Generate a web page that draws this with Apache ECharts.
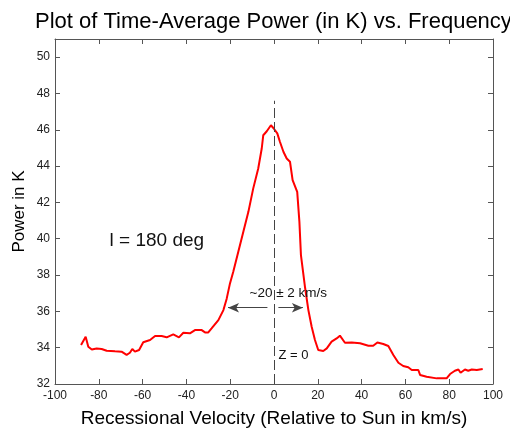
<!DOCTYPE html>
<html>
<head>
<meta charset="utf-8">
<title>Time-Average Power vs. Frequency</title>
<script src="https://cdn.jsdelivr.net/npm/echarts@6/dist/echarts.min.js"></script>
<style>
  html, body { margin: 0; padding: 0; background: #fff; }
  #chart { width: 510px; height: 428px; }
</style>
</head>
<body>
<div id="chart"></div>
<script>
// recessional velocity (km/s) and time-average power (K)
const velocity = [
  -88.1, -86, -84.8, -83.2, -81, -78.7, -76.4, -72.6, -69.6, -67.3,
  -65.8, -64.7, -63.5, -61.6, -59.7, -56.6, -54.3, -51.3, -49, -46,
  -43.4, -41.4, -38.4, -36.1, -33, -31.5, -30, -28.5, -25.4, -23.1,
  -21.6, -20.1, -18.6, -16.3, -14, -11.7, -9.5, -7.2, -5.6, -4.9,
  -3.3, -1.4, -0.3, 1.5, 2.7, 4.3, 5.8, 7.3, 8.5, 10.6,
  11.6, 12.3, 14.2, 15.7, 17.2, 18.7, 20.2, 22.5, 24.1, 26.3,
  28.6, 30.1, 32.4, 35.5, 39.3, 43.1, 45.3, 47.2, 49.9, 52.2,
  54.5, 56.8, 59, 61.3, 62.9, 65.9, 66.7, 69.7, 74.3, 78.8,
  80.4, 82.6, 84.2, 85.2, 87.2, 88.7, 90.3, 92.6, 95.3
]
const power = [
  34.15, 34.6, 34.05, 33.9, 33.96, 33.93, 33.83, 33.8, 33.78, 33.6,
  33.72, 33.93, 33.78, 33.87, 34.3, 34.42, 34.64, 34.64, 34.57, 34.73,
  34.57, 34.82, 34.79, 34.97, 34.97, 34.84, 34.84, 35.06, 35.52, 36.07,
  36.7, 37.54, 38.18, 39.28, 40.38, 41.48, 42.76, 43.87, 44.97, 45.7,
  45.92, 46.25, 46.1, 45.8, 45.34, 44.79, 44.42, 44.24, 43.23, 42.58,
  40.93, 39.1, 37.3, 36.07, 35.15, 34.42, 33.87, 33.82, 33.96, 34.33,
  34.51, 34.66, 34.27, 34.29, 34.24, 34.11, 34.11, 34.29, 34.2, 34.09,
  33.6, 33.17, 32.99, 32.92, 32.77, 32.77, 32.5, 32.4, 32.31, 32.31,
  32.55, 32.73, 32.8, 32.62, 32.8, 32.73, 32.8, 32.77, 32.83
]

// axis ranges
const xRange = [-100, 100]
const xStep = 20
const yRange = [32, 51]
const yStep = 2

// annotations (data coordinates)
const zeroLineTop = 47.6
const widthArrowY = 36.2
const leftArrow = [-3, -21]
const rightArrow = [2, 13.2]
const widthText = '~20 ± 2 km/s'
const zText = 'Z = 0'
const lText = 'l = 180 deg'

const FONT = '"Liberation Sans", Arial, Helvetica, sans-serif'
const AXIS_COLOR = '#555'

const chart = echarts.init(document.getElementById('chart'))

const boxAxis = (extra) => Object.assign({
  type: 'value',
  axisLine: { show: true, onZero: false, lineStyle: { color: AXIS_COLOR, width: 1 } },
  axisTick: { show: true, inside: true, length: 5, lineStyle: { color: AXIS_COLOR } },
  splitLine: { show: false }
}, extra)

const textPoint = (coord, text, size) => ({
  coord: coord,
  symbol: 'rect',
  symbolSize: 1,
  itemStyle: { color: 'transparent' },
  label: {
    show: true,
    position: 'right',
    distance: 0,
    formatter: text,
    color: '#111',
    fontFamily: FONT,
    fontSize: size
  }
})

const option = {
  animation: false,
  backgroundColor: '#fff',
  title: {
    text: 'Plot of Time-Average Power (in K) vs. Frequency',
    left: 30,
    top: 6,
    textStyle: { color: '#000', fontFamily: FONT, fontSize: 22, fontWeight: 'normal' }
  },
  grid: { left: 55, right: 17, top: 39, bottom: 44, outerBoundsMode: 'none' },
  xAxis: [
    boxAxis({
      min: xRange[0], max: xRange[1], interval: xStep,
      position: 'bottom',
      name: 'Recessional Velocity (Relative to Sun in km/s)',
      nameLocation: 'middle',
      nameGap: 25,
      nameTextStyle: { color: '#000', fontFamily: FONT, fontSize: 19 },
      axisLabel: {
        show: true, margin: 6, color: '#222', fontFamily: FONT, fontSize: 12,
        showMinLabel: true, showMaxLabel: true
      }
    }),
    boxAxis({
      min: xRange[0], max: xRange[1], interval: xStep,
      position: 'top',
      axisLabel: { show: false }
    })
  ],
  yAxis: [
    boxAxis({
      min: yRange[0], max: yRange[1], interval: yStep,
      position: 'left',
      name: 'Power in K',
      nameLocation: 'middle',
      nameGap: 27,
      nameMoveOverlap: false,
      nameTextStyle: { color: '#000', fontFamily: FONT, fontSize: 17 },
      axisLabel: {
        show: true, margin: 5, color: '#222', fontFamily: FONT, fontSize: 12,
        showMinLabel: true,
        formatter: (v) => (v % yStep === 0 ? String(v) : '')
      }
    }),
    boxAxis({
      min: yRange[0], max: yRange[1], interval: yStep,
      position: 'right',
      axisLabel: { show: false }
    })
  ],
  series: [
    {
      type: 'line',
      data: velocity.map((v, i) => [v, power[i]]),
      showSymbol: false,
      symbol: 'none',
      lineStyle: { color: '#ff0000', width: 2 },
      z: 3,
      markLine: {
        silent: true,
        animation: false,
        label: { show: false },
        data: [
          [
            { coord: [0, yRange[0]], symbol: 'none', lineStyle: { color: '#444', width: 1, type: [10, 4] } },
            { coord: [0, zeroLineTop], symbol: 'none' }
          ],
          [
            { coord: [leftArrow[0], widthArrowY], symbol: 'none', lineStyle: { color: '#444', width: 1, type: 'solid' } },
            { coord: [leftArrow[1], widthArrowY], symbol: 'arrow', symbolSize: [7, 11] }
          ],
          [
            { coord: [rightArrow[0], widthArrowY], symbol: 'none', lineStyle: { color: '#444', width: 1, type: 'solid' } },
            { coord: [rightArrow[1], widthArrowY], symbol: 'arrow', symbolSize: [7, 11] }
          ]
        ],
        itemStyle: { color: '#000' }
      },
      markPoint: {
        silent: true,
        animation: false,
        data: [
          textPoint([-11.4, 37.0], widthText, 13.5),
          textPoint([1.8, 33.6], zText, 13),
          textPoint([-75.3, 39.9], lText, 19)
        ]
      }
    }
  ]
}

chart.setOption(option)
</script>
</body>
</html>
